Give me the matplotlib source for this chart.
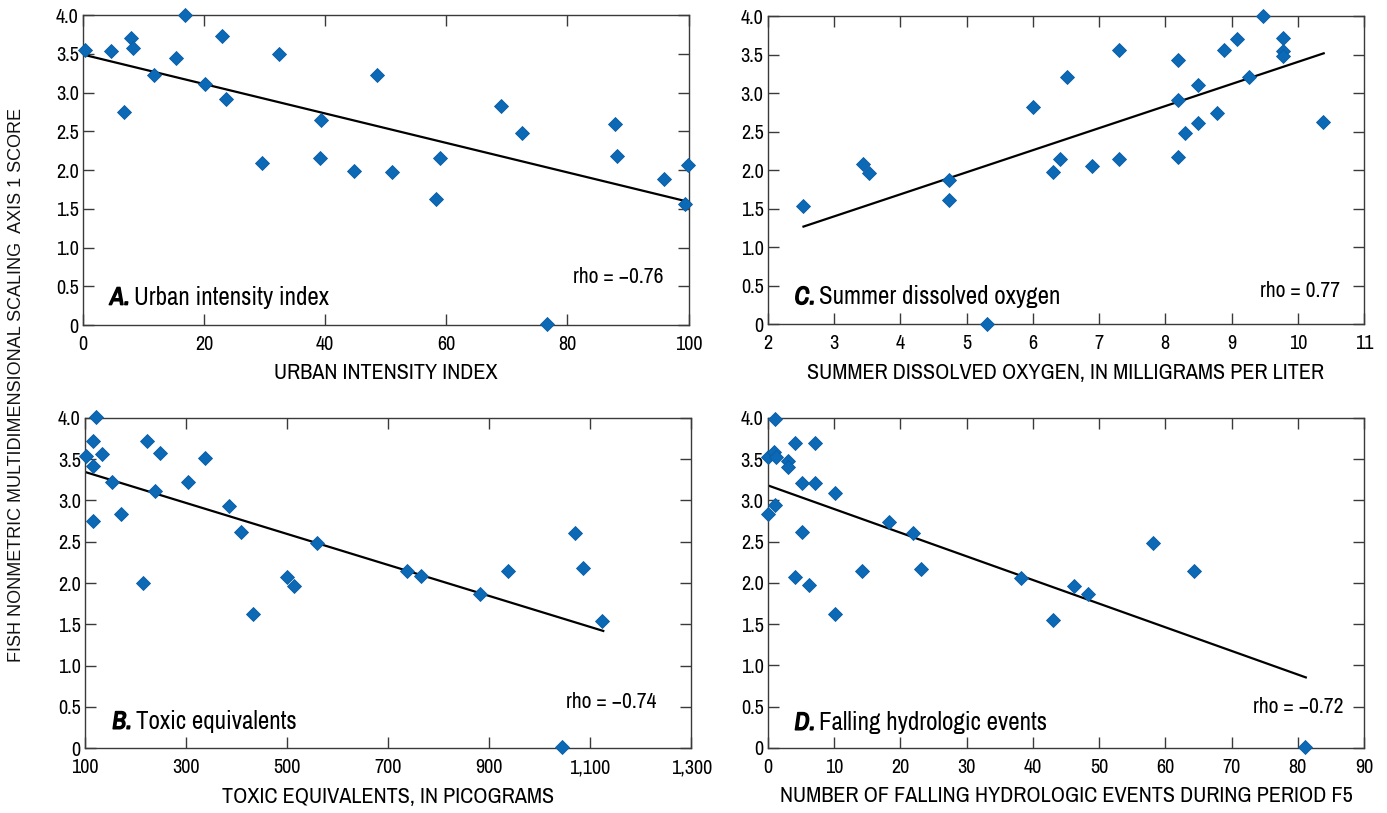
import matplotlib
matplotlib.use("Agg")
import matplotlib.pyplot as plt
import matplotlib.patheffects as pe
from matplotlib import font_manager

# fish NMS axis 1 score vs. four explanatory variables
urban_x = [0.3, 4.7, 7.9, 8.2, 6.7, 11.7, 15.4, 16.9, 20.2, 22.9, 23.7, 29.6, 32.3, 39.3,
           39.2, 44.7, 48.5, 51.0, 58.9, 58.3, 69.1, 72.5, 87.9, 88.2, 95.9, 99.9, 99.4, 76.7]
urban_y = [3.55, 3.54, 3.71, 3.57, 2.75, 3.23, 3.44, 4.00, 3.11, 3.73, 2.92, 2.09, 3.50, 2.64,
           2.15, 1.99, 3.23, 1.98, 2.15, 1.63, 2.83, 2.48, 2.60, 2.18, 1.88, 2.06, 1.56, 0.01]
urban_fit_x = [0, 100]
urban_fit_y = [3.49, 1.59]

teq_x = [102, 116, 116, 122, 133, 116, 153, 171, 214, 222, 239, 248, 304, 337, 385, 408, 433,
         499, 514, 560, 737, 765, 882, 937, 1071, 1086, 1124, 1045]
teq_y = [3.54, 3.41, 3.72, 4.01, 3.56, 2.75, 3.22, 2.83, 2.00, 3.72, 3.11, 3.57, 3.22, 3.51,
         2.93, 2.62, 1.62, 2.07, 1.96, 2.49, 2.14, 2.08, 1.87, 2.15, 2.60, 2.18, 1.54, 0.01]
teq_fit_x = [102, 1126]
teq_fit_y = [3.34, 1.42]

do_x = [2.54, 3.44, 3.53, 4.73, 4.73, 5.31, 6.01, 6.51, 6.41, 6.31, 6.89, 7.30, 7.30, 8.19,
        8.19, 8.19, 8.29, 8.49, 8.49, 8.78, 8.88, 9.08, 9.27, 9.48, 9.77, 9.77, 9.77, 10.38]
do_y = [1.54, 2.08, 1.96, 1.87, 1.62, 0.01, 2.82, 3.21, 2.15, 1.98, 2.06, 2.15, 3.56, 3.43,
        2.92, 2.18, 2.48, 3.11, 2.61, 2.74, 3.56, 3.71, 3.21, 4.01, 3.72, 3.55, 3.49, 2.63]
do_fit_x = [2.54, 10.39]
do_fit_y = [1.27, 3.52]

fall_x = [1.1, 0.0, 1.0, 1.2, 4.1, 7.1, 3.1, 3.1, 5.2, 7.1, 10.1, 1.1, 0.1, 5.2, 4.1, 6.3,
          10.2, 14.2, 18.3, 22.0, 23.1, 38.2, 43.0, 46.2, 48.3, 58.2, 64.3, 81.1]
fall_y = [3.99, 3.53, 3.59, 3.53, 3.69, 3.70, 3.48, 3.40, 3.21, 3.21, 3.09, 2.94, 2.83, 2.62,
          2.07, 1.98, 1.62, 2.14, 2.74, 2.60, 2.17, 2.06, 1.55, 1.96, 1.86, 2.48, 2.14, 0.01]
fall_fit_x = [0.1, 81.2]
fall_fit_y = [3.18, 0.855]

y_ticks = [0, 0.5, 1.0, 1.5, 2.0, 2.5, 3.0, 3.5, 4.0]
y_ticklabels = ['0', '0.5', '1.0', '1.5', '2.0', '2.5', '3.0', '3.5', '4.0']
teq_ticks = [100, 300, 500, 700, 900, 1100, 1300]
teq_ticklabels = ['100', '300', '500', '700', '900', '1,100', '1,300']

# look for a condensed sans face, the original uses a condensed type
narrow, stretch = 'Liberation Sans', 'normal'
for f in font_manager.fontManager.ttflist:
    if 'Mono' in f.name or 'Serif' in f.name:
        continue
    if 'Narrow' in f.name or 'Condensed' in f.name:
        narrow, stretch = f.name, 'normal'
        break
    if f.stretch in ('condensed', 'semi-condensed') and f.name in ('DejaVu Sans', 'Noto Sans', 'Open Sans', 'Roboto'):
        narrow, stretch = f.name, f.stretch
plt.rcParams['font.family'] = [narrow, 'DejaVu Sans']
plt.rcParams['font.stretch'] = stretch

dot_color = '#0b69b6'
frame_color = '#3a3a3a'
fake_bold = [pe.withStroke(linewidth=1.1, foreground='black')]


def draw_panel(ax, x, y, fit_x, fit_y, xlim, xticks, xticklabels, xlabel,
               letter, title, rho, rho_pos, title_y):
    ax.plot(fit_x, fit_y, color='black', lw=1.6, zorder=2)
    ax.plot(x, y, linestyle='none', marker='D', ms=7.4, color=dot_color,
            markeredgecolor='#0a5da3', markeredgewidth=0.6, clip_on=False, zorder=3)
    ax.set_xlim(xlim)
    ax.set_ylim(0, 4.0)
    ax.set_xticks(xticks)
    ax.set_xticklabels(xticklabels)
    ax.set_yticks(y_ticks)
    ax.set_yticklabels(y_ticklabels)
    ax.tick_params(direction='in', top=True, right=True, length=8, width=1,
                   color=frame_color, labelsize=14.5, pad=3)
    ax.tick_params(axis='x', pad=7)
    for s in ax.spines.values():
        s.set_color(frame_color)
        s.set_linewidth(1.0)
    ax.set_xlabel(xlabel, fontsize=16, labelpad=7)
    lt = ax.text(0.045, title_y, letter, transform=ax.transAxes, fontsize=18,
                 fontweight='bold', fontstyle='italic', va='bottom', path_effects=fake_bold)
    ax.annotate(title, xy=(1, 0), xycoords=lt, xytext=(3, 0), textcoords='offset points',
                fontsize=18, va='bottom')
    ax.text(rho_pos[0], rho_pos[1], rho, transform=ax.transAxes, fontsize=15.5,
            ha='right', va='baseline')


fig = plt.figure(figsize=(13.87, 8.13), dpi=100)
ax_a = fig.add_axes([0.0598, 0.6002, 0.4366, 0.3813])
ax_c = fig.add_axes([0.5535, 0.6010, 0.4300, 0.3789])
ax_b = fig.add_axes([0.0613, 0.0796, 0.4370, 0.4066])
ax_d = fig.add_axes([0.5535, 0.0800, 0.4300, 0.4060])

draw_panel(ax_a, urban_x, urban_y, urban_fit_x, urban_fit_y, (0, 100),
           [0, 20, 40, 60, 80, 100], ['0', '20', '40', '60', '80', '100'],
           'URBAN INTENSITY INDEX', 'A.', 'Urban intensity index',
           'rho = \u22120.76', (0.959, 0.135), 0.053)
draw_panel(ax_c, do_x, do_y, do_fit_x, do_fit_y, (2, 11),
           list(range(2, 12)), [str(v) for v in range(2, 12)],
           'SUMMER DISSOLVED OXYGEN, IN MILLIGRAMS PER LITER', 'C.', 'Summer dissolved oxygen',
           'rho = 0.77', (0.959, 0.09), 0.053)
draw_panel(ax_b, teq_x, teq_y, teq_fit_x, teq_fit_y, (100, 1300),
           teq_ticks, teq_ticklabels,
           'TOXIC EQUIVALENTS, IN PICOGRAMS', 'B.', 'Toxic equivalents',
           'rho = \u22120.74', (0.942, 0.121), 0.047)
draw_panel(ax_d, fall_x, fall_y, fall_fit_x, fall_fit_y, (0, 90),
           list(range(0, 100, 10)), [str(v) for v in range(0, 100, 10)],
           'NUMBER OF FALLING HYDROLOGIC EVENTS DURING PERIOD F5', 'D.', 'Falling hydrologic events',
           'rho = \u22120.72', (0.965, 0.105), 0.043)

fig.text(0.012, 0.527, 'FISH NONMETRIC MULTIDIMENSIONAL SCALING  AXIS 1 SCORE',
         rotation=90, ha='center', va='center', fontsize=13,
         family=['Liberation Sans', 'DejaVu Sans'], stretch='normal', color='#111111')

fig.savefig('out.png', dpi=100)
